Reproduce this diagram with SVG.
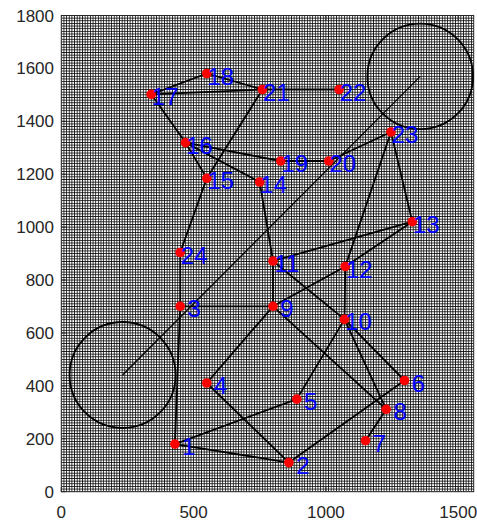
<svg xmlns="http://www.w3.org/2000/svg" width="477" height="523" viewBox="0 0 477 523">
<style>
.tk{font-family:"Liberation Sans",Arial,sans-serif;font-size:17px;fill:#262626}
.lb{font-family:"Liberation Sans",Arial,sans-serif;font-size:24px;fill:#0000FF;text-anchor:middle}
.e{stroke:#000;stroke-width:1.8;fill:none;stroke-linecap:round}
.n{fill:#FF0000}
</style>
<defs>
<pattern id="grid" x="59.977" y="490.377" width="2.6458" height="2.6458" patternUnits="userSpaceOnUse">
<path d="M1.3229 0V2.6458M0 1.3229H2.6458" stroke="#0a0a0a" stroke-width="0.8" fill="none"/>
</pattern>
<clipPath id="ax"><rect x="61.3" y="15.5" width="412.4" height="476.2"/></clipPath>
</defs>
<rect width="477" height="523" fill="#fff"/>
<g id="axes">
<rect x="61.3" y="15.5" width="412.4" height="476.2" fill="url(#grid)" clip-path="url(#ax)"/>
<rect x="61.3" y="15.5" width="412.4" height="476.2" stroke="#262626" stroke-width="1" fill="none"/>
<path d="M61.3 491.7h4.5M61.3 438.78h4.5M61.3 385.87h4.5M61.3 332.95h4.5M61.3 280.03h4.5M61.3 227.12h4.5M61.3 174.2h4.5M61.3 121.28h4.5M61.3 68.37h4.5M61.3 15.5h4.5M61.3 491.7v-4.5M193.6 491.7v-4.5M325.9 491.7v-4.5M458.2 491.7v-4.5M193.6 15.5v4.5M325.9 15.5v4.5M458.2 15.5v4.5" stroke="#262626" stroke-width="1" fill="none"/>
<g class="tk" text-anchor="end">
<text x="54" y="497.7">0</text>
<text x="54" y="444.8">200</text>
<text x="54" y="391.9">400</text>
<text x="54" y="339">600</text>
<text x="54" y="286">800</text>
<text x="54" y="233.1">1000</text>
<text x="54" y="180.2">1200</text>
<text x="54" y="127.3">1400</text>
<text x="54" y="74.4">1600</text>
<text x="54" y="21.5">1800</text>
</g>
<g class="tk" text-anchor="middle">
<text x="61.3" y="518">0</text>
<text x="193.6" y="518">500</text>
<text x="325.9" y="518">1000</text>
<text x="458.2" y="518">1500</text>
</g>
</g>
<g id="circles" fill="none" stroke="#000">
<circle cx="420.2" cy="76.4" r="52.8" stroke-width="1.8"/>
<circle cx="122.6" cy="375" r="53" stroke-width="1.8"/>
<line x1="122.6" y1="375" x2="420.2" y2="76.4" stroke-width="1.2"/>
</g>
<g id="connectors" class="e">
<line x1="151.2" y1="94.3" x2="206.8" y2="73.5"/>
<line x1="206.8" y1="73.5" x2="262.4" y2="89.5"/>
<line x1="151.2" y1="94.3" x2="262.4" y2="89.5"/>
<line x1="262.4" y1="89.5" x2="339.1" y2="89.5"/>
<line x1="151.2" y1="94.3" x2="185.5" y2="142.6"/>
<line x1="185.5" y1="142.6" x2="206.8" y2="178.3"/>
<line x1="185.5" y1="142.6" x2="280.8" y2="161"/>
<line x1="185.5" y1="142.6" x2="259.7" y2="182"/>
<line x1="280.8" y1="161" x2="328.8" y2="161"/>
<line x1="262.4" y1="89.5" x2="206.8" y2="178.3"/>
<line x1="206.8" y1="178.3" x2="180.2" y2="252.5"/>
<line x1="328.8" y1="161" x2="391" y2="132"/>
<line x1="391" y1="132" x2="412.3" y2="221.7"/>
<line x1="391" y1="132" x2="345.3" y2="266.5"/>
<line x1="259.7" y1="182" x2="273" y2="261"/>
<line x1="412.3" y1="221.7" x2="273" y2="261"/>
<line x1="412.3" y1="221.7" x2="345.3" y2="266.5"/>
<line x1="180.2" y1="252.5" x2="180.2" y2="306.3"/>
<line x1="180.2" y1="306.3" x2="273" y2="306.3"/>
<line x1="180.2" y1="306.3" x2="174.9" y2="444.1"/>
<line x1="273" y1="261" x2="273" y2="306.3"/>
<line x1="273" y1="261" x2="344.5" y2="319.4"/>
<line x1="345.3" y1="266.5" x2="344.5" y2="319.4"/>
<line x1="345.3" y1="266.5" x2="273" y2="306.3"/>
<line x1="273" y1="306.3" x2="206.8" y2="383"/>
<line x1="273" y1="306.3" x2="386.2" y2="409.3"/>
<line x1="344.5" y1="319.4" x2="296.8" y2="399.1"/>
<line x1="344.5" y1="319.4" x2="404.5" y2="380.5"/>
<line x1="344.5" y1="319.4" x2="386.2" y2="409.3"/>
<line x1="206.8" y1="383" x2="288.9" y2="462.6"/>
<line x1="174.9" y1="444.1" x2="296.8" y2="399.1"/>
<line x1="174.9" y1="444.1" x2="288.9" y2="462.6"/>
<line x1="288.9" y1="462.6" x2="404.5" y2="380.5"/>
<line x1="386.2" y1="409.3" x2="365.5" y2="440.7"/>
</g>
<g id="n1"><circle class="n" cx="174.9" cy="444.1" r="4.8"/><text class="lb" x="188.9" y="455.1">1</text></g>
<g id="n2"><circle class="n" cx="288.9" cy="462.6" r="4.8"/><text class="lb" x="302.9" y="473.6">2</text></g>
<g id="n3"><circle class="n" cx="180.2" cy="306.3" r="4.8"/><text class="lb" x="194.2" y="317.3">3</text></g>
<g id="n4"><circle class="n" cx="206.8" cy="383" r="4.8"/><text class="lb" x="220.8" y="394">4</text></g>
<g id="n5"><circle class="n" cx="296.8" cy="399.1" r="4.8"/><text class="lb" x="310.8" y="410.1">5</text></g>
<g id="n6"><circle class="n" cx="404.5" cy="380.5" r="4.8"/><text class="lb" x="418.5" y="391.5">6</text></g>
<g id="n7"><circle class="n" cx="365.5" cy="440.7" r="4.8"/><text class="lb" x="379.5" y="451.7">7</text></g>
<g id="n8"><circle class="n" cx="386.2" cy="409.3" r="4.8"/><text class="lb" x="400.2" y="420.3">8</text></g>
<g id="n9"><circle class="n" cx="273" cy="306.3" r="4.8"/><text class="lb" x="287" y="317.3">9</text></g>
<g id="n10"><circle class="n" cx="344.5" cy="319.4" r="4.8"/><text class="lb" x="358.5" y="330.4">10</text></g>
<g id="n11"><circle class="n" cx="273" cy="261" r="4.8"/><text class="lb" x="287" y="272">11</text></g>
<g id="n12"><circle class="n" cx="345.3" cy="266.5" r="4.8"/><text class="lb" x="359.3" y="277.5">12</text></g>
<g id="n13"><circle class="n" cx="412.3" cy="221.7" r="4.8"/><text class="lb" x="426.3" y="232.7">13</text></g>
<g id="n14"><circle class="n" cx="259.7" cy="182" r="4.8"/><text class="lb" x="273.7" y="193">14</text></g>
<g id="n15"><circle class="n" cx="206.8" cy="178.3" r="4.8"/><text class="lb" x="220.8" y="189.3">15</text></g>
<g id="n16"><circle class="n" cx="185.5" cy="142.6" r="4.8"/><text class="lb" x="199.5" y="153.6">16</text></g>
<g id="n17"><circle class="n" cx="151.2" cy="94.3" r="4.8"/><text class="lb" x="165.2" y="105.3">17</text></g>
<g id="n18"><circle class="n" cx="206.8" cy="73.5" r="4.8"/><text class="lb" x="220.8" y="84.5">18</text></g>
<g id="n19"><circle class="n" cx="280.8" cy="161" r="4.8"/><text class="lb" x="294.8" y="172">19</text></g>
<g id="n20"><circle class="n" cx="328.8" cy="161" r="4.8"/><text class="lb" x="342.8" y="172">20</text></g>
<g id="n21"><circle class="n" cx="262.4" cy="89.5" r="4.8"/><text class="lb" x="276.4" y="100.5">21</text></g>
<g id="n22"><circle class="n" cx="339.1" cy="89.5" r="4.8"/><text class="lb" x="353.1" y="100.5">22</text></g>
<g id="n23"><circle class="n" cx="391" cy="132" r="4.8"/><text class="lb" x="405" y="143">23</text></g>
<g id="n24"><circle class="n" cx="180.2" cy="252.5" r="4.8"/><text class="lb" x="194.2" y="263.5">24</text></g>
</svg>
